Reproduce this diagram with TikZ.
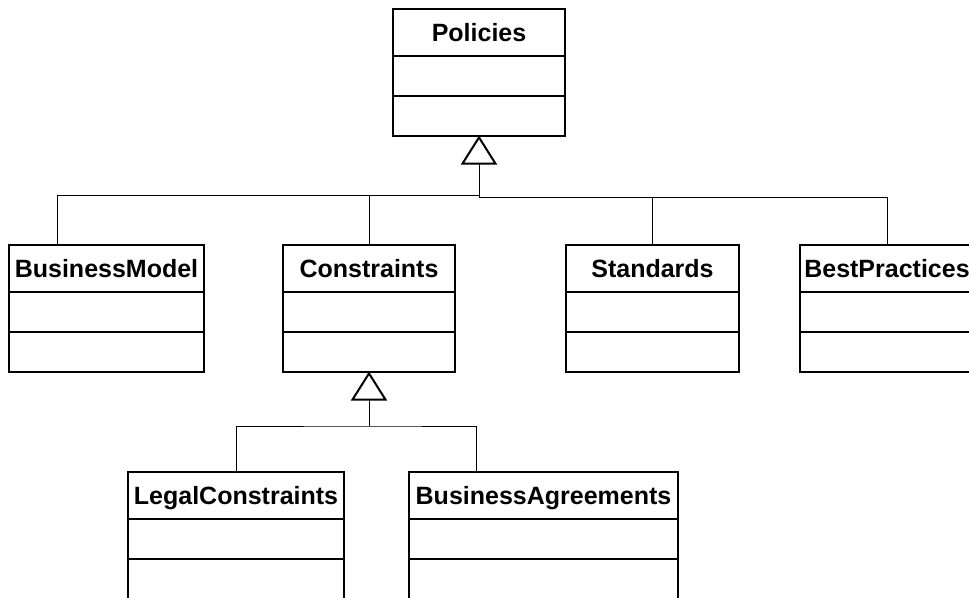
\documentclass[tikz,border=0pt]{standalone}
\usepackage{fontspec}
\setmainfont{Liberation Sans}
\usetikzlibrary{positioning,calc,arrows.meta}

\tikzset{
    head/.style={draw, line width=2pt, anchor=north, inner sep=0pt, outer sep=0pt,
        minimum height=46.5pt, text height=18pt, text depth=0pt,
        font=\bfseries\fontsize{25}{30}\selectfont},
    comp/.style={draw, line width=2pt, inner sep=0pt, outer sep=0pt, minimum height=40pt},
    gen/.style={-{Triangle[open, length=29pt, width=36pt, line width=2pt]}},
}

\begin{document}
\begin{tikzpicture}[x=1pt, y=-1pt, line width=1pt]
    \useasboundingbox (0, 0) rectangle (969, 597);

    % Policies
    \node [head, minimum width=172] (pol) at (479, 9) {Policies};
    \node [comp, minimum width=172, below=0pt of pol] (pol1) {};
    \node [comp, minimum width=172, below=0pt of pol1] (pol2) {};

    % Second row
    \node [head, minimum width=195] (bm) at (106.5, 245) {BusinessModel};
    \node [comp, minimum width=195, below=0pt of bm] (bm1) {};
    \node [comp, minimum width=195, below=0pt of bm1] (bm2) {};

    \node [head, minimum width=172] (con) at (369, 245) {Constraints};
    \node [comp, minimum width=172, below=0pt of con] (con1) {};
    \node [comp, minimum width=172, below=0pt of con1] (con2) {};

    \node [head, minimum width=173] (std) at (652.5, 245) {Standards};
    \node [comp, minimum width=173, below=0pt of std] (std1) {};
    \node [comp, minimum width=173, below=0pt of std1] (std2) {};

    \node [head, minimum width=174] (bp) at (887, 245) {BestPractices};
    \node [comp, minimum width=174, below=0pt of bp] (bp1) {};
    \node [comp, minimum width=174, below=0pt of bp1] (bp2) {};

    % Third row
    \node [head, minimum width=216] (lc) at (236, 472) {LegalConstraints};
    \node [comp, minimum width=216, below=0pt of lc] (lc1) {};
    \node [comp, minimum width=216, below=0pt of lc1] (lc2) {};

    \node [head, minimum width=269] (ba) at (543.5, 472) {BusinessAgreements};
    \node [comp, minimum width=269, below=0pt of ba] (ba1) {};
    \node [comp, minimum width=269, below=0pt of ba1] (ba2) {};

    % Generalization to Policies
    \coordinate (jl) at (479, 195);
    \coordinate (jr) at (479, 197);
    \draw [gen] (jr) -- (pol2.south);
    \draw ($(bm.north west)!.25!(bm.north east)$) |- (jl);
    \draw (con.north) -- (con.north |- jl);
    \draw (jr) -| (bp.north);
    \draw (std.north) -- (std.north |- jr);

    % Generalization to Constraints
    \coordinate (jc) at (369, 426);
    \draw [gen] (jc) -- (con2.south);
    \draw (lc.north) |- (jc) -| ($(ba.north west)!.25!(ba.north east)$);
\end{tikzpicture}
\end{document}
